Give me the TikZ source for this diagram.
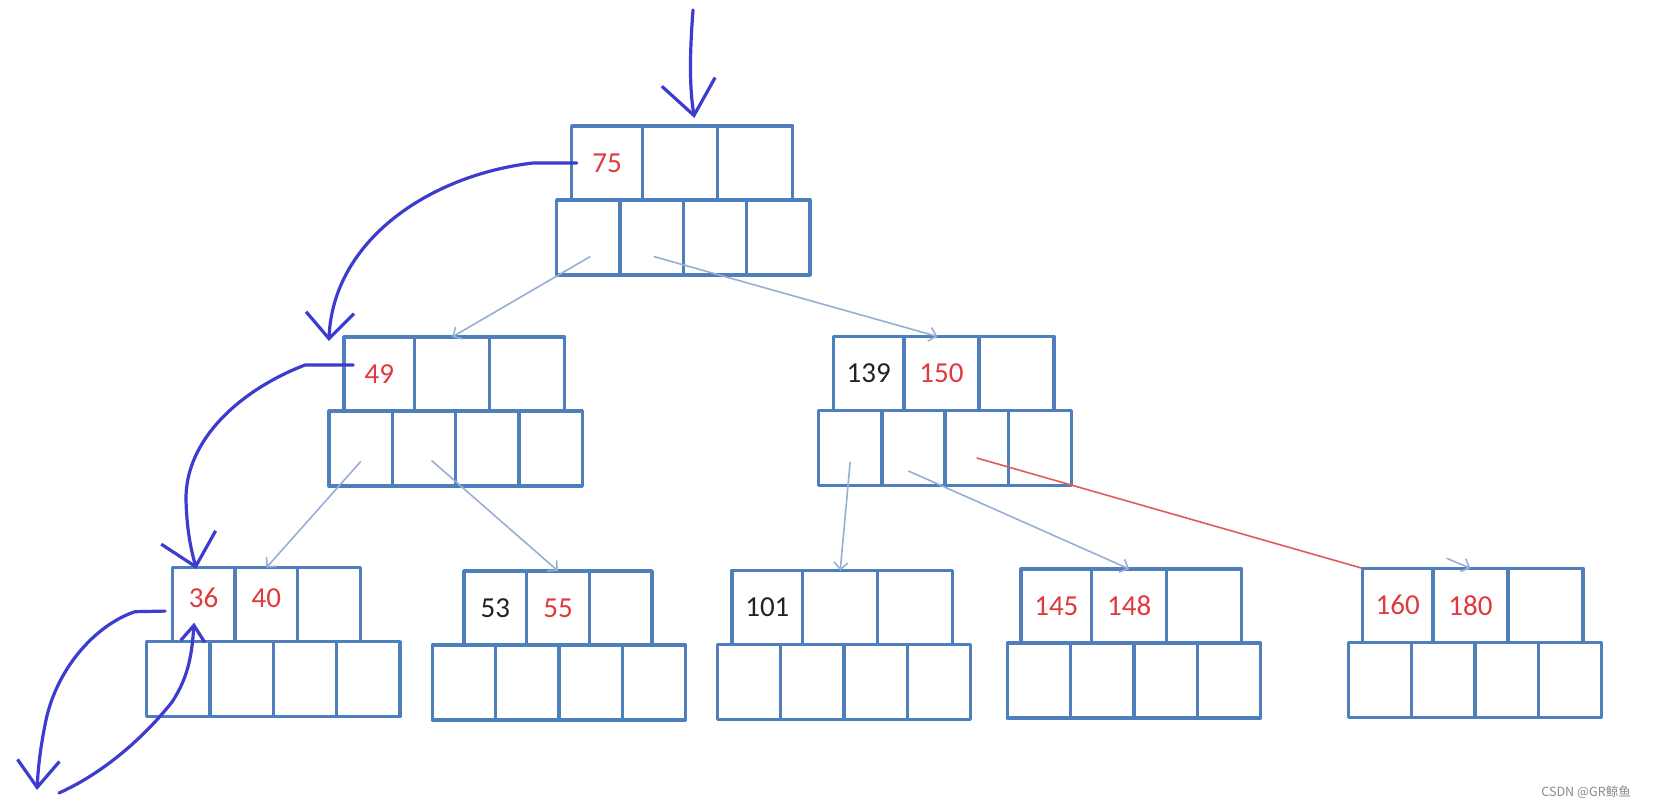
\documentclass[tikz,border=0pt]{standalone}
\usepackage{fontspec}
\setmainfont{Carlito}
\newfontfamily\cjkfont{Noto Sans CJK SC}
\usetikzlibrary{arrows.meta,positioning}
\definecolor{cBox}{HTML}{4F7EBD}
\definecolor{cLink}{HTML}{97AFD6}
\definecolor{cRed}{HTML}{E0393E}
\definecolor{cCut}{HTML}{E25A5A}
\definecolor{cInk}{HTML}{222222}
\definecolor{cPen}{HTML}{3C3CD0}
\definecolor{cMark}{HTML}{8A8A8A}

\begin{document}
\begin{tikzpicture}[
  x=0.5pt, y=-0.5pt,
  font=\fontsize{14.5}{16}\selectfont,
  cell/.style={draw=cBox,line width=1.7pt,line join=round,inner sep=0pt,outer sep=0pt,
               minimum height=37pt},
  kfirst/.style={cell,minimum width=35.35pt},
  kwide/.style={cell,minimum width=37.5pt},
  knarrow/.style={cell,minimum width=31.35pt},
  pcell/.style={cell,minimum width=31.65pt,minimum height=37.5pt},
  hot/.style={text=cRed},
  plain/.style={text=cInk},
  raised/.style={text depth=7pt},
  link/.style={draw=cLink,line width=0.8pt,-{Straight Barb[length=3.5pt,width=7pt]}},
  cut/.style={draw=cCut,line width=0.8pt},
  pen/.style={draw=cPen,line width=1.6pt,line cap=round,line join=round}
]
\fill[white] (0,0) rectangle (1654,807);
\useasboundingbox (0,0) rectangle (1654,807);

% root
\node[pcell,anchor=north west] (n75-p1) at (556.7,200) {};
\node[pcell,right=0pt of n75-p1] (n75-p2) {};
\node[pcell,right=0pt of n75-p2] (n75-p3) {};
\node[pcell,right=0pt of n75-p3] (n75-p4) {};
\node[kfirst,hot,above right=0pt and 7.5pt of n75-p1.north west] (n75-k1) {75};
\node[kwide,right=0pt of n75-k1] (n75-k2) {};
\node[kwide,right=0pt of n75-k2] (n75-k3) {};

% second level
\node[pcell,anchor=north west] (n49-p1) at (329.1,411) {};
\node[pcell,right=0pt of n49-p1] (n49-p2) {};
\node[pcell,right=0pt of n49-p2] (n49-p3) {};
\node[pcell,right=0pt of n49-p3] (n49-p4) {};
\node[kfirst,hot,above right=0pt and 7.4pt of n49-p1.north west] (n49-k1) {49};
\node[kwide,right=0pt of n49-k1] (n49-k2) {};
\node[kwide,right=0pt of n49-k2] (n49-k3) {};

\node[pcell,anchor=north west] (n139-p1) at (818.5,410.5) {};
\node[pcell,right=0pt of n139-p1] (n139-p2) {};
\node[pcell,right=0pt of n139-p2] (n139-p3) {};
\node[pcell,right=0pt of n139-p3] (n139-p4) {};
\node[kfirst,plain,above right=0pt and 7.4pt of n139-p1.north west] (n139-k1) {139};
\node[kwide,hot,right=0pt of n139-k1] (n139-k2) {150};
\node[kwide,right=0pt of n139-k2] (n139-k3) {};

% leaves
\node[pcell,anchor=north west] (n36-p1) at (146.7,641.7) {};
\node[pcell,right=0pt of n36-p1] (n36-p2) {};
\node[pcell,right=0pt of n36-p2] (n36-p3) {};
\node[pcell,right=0pt of n36-p3] (n36-p4) {};
\node[knarrow,hot,raised,above right=0pt and 12.8pt of n36-p1.north west] (n36-k1) {36};
\node[knarrow,hot,raised,right=0pt of n36-k1] (n36-k2) {40};
\node[knarrow,right=0pt of n36-k2] (n36-k3) {};

\node[pcell,anchor=north west] (n53-p1) at (432.3,645) {};
\node[pcell,right=0pt of n53-p1] (n53-p2) {};
\node[pcell,right=0pt of n53-p2] (n53-p3) {};
\node[pcell,right=0pt of n53-p3] (n53-p4) {};
\node[knarrow,plain,above right=0pt and 15.85pt of n53-p1.north west] (n53-k1) {53};
\node[knarrow,hot,right=0pt of n53-k1] (n53-k2) {55};
\node[knarrow,right=0pt of n53-k2] (n53-k3) {};

\node[pcell,anchor=north west] (n101-p1) at (717.3,644.5) {};
\node[pcell,right=0pt of n101-p1] (n101-p2) {};
\node[pcell,right=0pt of n101-p2] (n101-p3) {};
\node[pcell,right=0pt of n101-p3] (n101-p4) {};
\node[kfirst,plain,above right=0pt and 7.35pt of n101-p1.north west] (n101-k1) {101};
\node[kwide,right=0pt of n101-k1] (n101-k2) {};
\node[kwide,right=0pt of n101-k2] (n101-k3) {};

\node[pcell,anchor=north west] (n145-p1) at (1007.3,643) {};
\node[pcell,right=0pt of n145-p1] (n145-p2) {};
\node[pcell,right=0pt of n145-p2] (n145-p3) {};
\node[pcell,right=0pt of n145-p3] (n145-p4) {};
\node[kfirst,hot,above right=0pt and 6.85pt of n145-p1.north west] (n145-k1) {145};
\node[kwide,hot,right=0pt of n145-k1] (n145-k2) {148};
\node[kwide,right=0pt of n145-k2] (n145-k3) {};

\node[pcell,anchor=north west] (n160-p1) at (1348.3,642.3) {};
\node[pcell,right=0pt of n160-p1] (n160-p2) {};
\node[pcell,right=0pt of n160-p2] (n160-p3) {};
\node[pcell,right=0pt of n160-p3] (n160-p4) {};
\node[kfirst,hot,above right=0pt and 7pt of n160-p1.north west] (n160-k1) {160};
\node[kwide,hot,right=0pt of n160-k1] (n160-k2) {180};
\node[kwide,right=0pt of n160-k2] (n160-k3) {};

% child pointers
\draw[link] ([shift={(1pt,-9.5pt)}]n75-p1.center) -- (n49-k2.north);
\draw[link] ([shift={(1pt,-9.5pt)}]n75-p2.center) -- ([xshift=-2pt]n139-k2.north);
\draw[link] ([yshift=-6.5pt]n49-p1.center) -- (n36-k2.north);
\draw[link] ([shift={(3.75pt,-6pt)}]n49-p2.center) -- (n53-k2.north);
\draw[link] ([yshift=-7pt]n139-p1.center) -- (n101-k2.north);
\draw[link] ([shift={(-2.5pt,-11.5pt)}]n139-p2.center) -- (n145-k2.north);
\draw[cut] ([yshift=-5pt]n139-p3.center) -- (n160-k1.north west);
\coordinate (n160-stub) at (1446.7,558.3);
\draw[link] (n160-stub) -- (n160-k2.north);

% search path, pen strokes
\coordinate (entry) at (693,10);
\coordinate (down) at (37,790);
\coordinate (back) at (59,793);
\draw[pen,-{Straight Barb[length=17pt,width=27pt]}] (entry) .. controls (690,50) and (689,85)
  .. ([shift={(7.25pt,4pt)}]n75-k2.north);
\draw[pen,-{Straight Barb[length=13pt,width=24pt]}] ([xshift=2.5pt]n75-k1.west) -- (533,163)
  .. controls (430,175) and (333,240) .. ([shift={(-7.5pt,-2pt)}]n49-k1.north west);
\draw[pen,-{Straight Barb[length=15pt,width=28pt]}] ([shift={(4.7pt,4.5pt)}]n49-k1.west) -- (305,365)
  .. controls (240,390) and (185,440) .. (186,500)
  .. controls (187,535) and (192,552) .. ([shift={(-3.75pt,-0.6pt)}]n36-k1.north);
\draw[pen,-{Straight Barb[length=13.5pt,width=21pt]}] ([shift={(-3.6pt,-3.2pt)}]n36-k1.west) -- (135,611.7)
  .. controls (95,625) and (55,670) .. (45,725)
  .. controls (40,750) and (38,770) .. (down);
\draw[pen,-{Straight Barb[length=8pt,width=12pt]}] (back) .. controls (110,770) and (150,730) .. (172,702)
  .. controls (190,675) and (192,650) .. ([shift={(-4.75pt,9.5pt)}]n36-k1.south);

\node[font=\cjkfont\fontsize{6.3}{7}\selectfont,text=cMark,anchor=east] (mark) at (1638,792) {CSDN @GR鲸鱼};
\end{tikzpicture}
\end{document}
